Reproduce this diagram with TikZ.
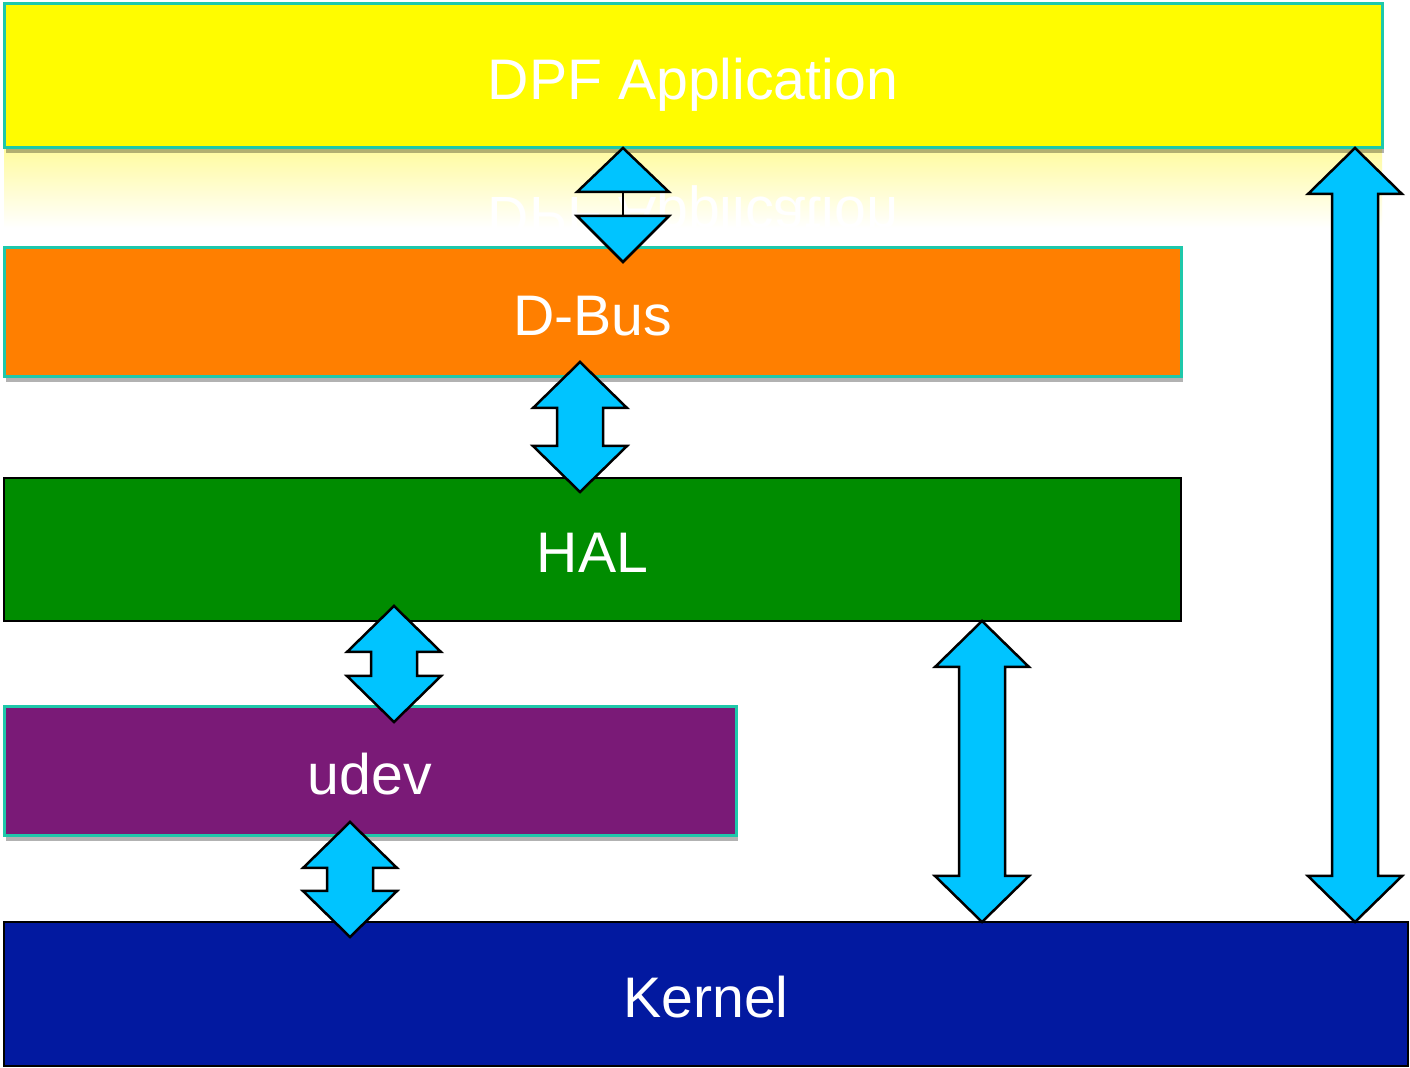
\documentclass[tikz,border=0pt]{standalone}
\usepackage{fontspec}
\setmainfont{Liberation Sans}
\usetikzlibrary{calc,shadows}
\definecolor{tealedge}{RGB}{30,200,170}
\definecolor{cyanarrow}{RGB}{0,196,255}
\definecolor{dpfyellow}{RGB}{255,252,0}
\definecolor{dbusorange}{RGB}{255,127,0}
\definecolor{halgreen}{RGB}{0,140,0}
\definecolor{udevpurple}{RGB}{122,26,119}
\definecolor{kernelblue}{RGB}{2,25,160}
\definecolor{refl}{RGB}{255,251,160}
\tikzset{
  layer/.style={inner sep=0pt, outer sep=0pt, text=white, font=\fontsize{28.6pt}{30pt}\selectfont,
    text height=23.4pt, text depth=0pt},
  tealbox/.style={layer, draw=tealedge, line width=1.5pt,
    drop shadow={shadow xshift=1.2pt, shadow yshift=-2.4pt, opacity=0.3, fill=black}},
  blackbox/.style={layer, draw=black, line width=1pt},
  arr/.style={fill=cyanarrow, draw=black, line width=1.25pt, line join=miter},
}
\newcommand\twoway[5]{%
  \coordinate (t) at ($(#1 |- #2.south)+(0,-#4)$);
  \coordinate (b) at ($(#1 |- #3.north)+(0,#5)$);
  \draw[arr] (t) -- ++(47,46) -- ++(-24,0) -- ($(b)+(23,-46)$) -- ++(24,0) -- (b)
     -- ++(-47,-46) -- ++(24,0) -- ($(t)+(-23,46)$) -- ++(-24,0) -- cycle;}
\begin{document}
\begin{tikzpicture}[x=0.5pt,y=-0.5pt]
\useasboundingbox[fill=white] (0,0) rectangle (1410,1068);

% reflection of the top layer
\begin{scope}
  \clip (4,149) rectangle (1382,228);
  \shade[top color=refl, bottom color=white] (4,149) rectangle (1382,228);
  \node[layer, text height=, text depth=, anchor=base, yscale=-1] (reflect) at (693,198) {DPF Application};
\end{scope}

% layers
\node[tealbox, fill=dpfyellow, minimum width=689pt, minimum height=72pt] (dpf) at (693,76) {DPF Application};
\node[tealbox, fill=dbusorange, minimum width=588.5pt, minimum height=64.5pt] (dbus) at (592.5,312.5) {D-Bus};
\node[blackbox, fill=halgreen, minimum width=588.5pt, minimum height=71.5pt] (hal) at (592.5,549.5) {HAL};
\node[tealbox, fill=udevpurple, minimum width=366pt, minimum height=64.5pt] (udev) at (370,771.5) {udev};
\node[blackbox, fill=kernelblue, minimum width=702pt, minimum height=72pt] (kernel) at (706,994) {Kernel};

% arrow x positions
\coordinate (ax0) at (623,0);
\coordinate (ax1) at (580,0);
\coordinate (ax2) at (394,0);
\coordinate (ax3) at (350,0);
\coordinate (ax4) at (982,0);
\coordinate (ax5) at (1355,0);

% DPF <-> D-Bus (two heads joined by a line)
\coordinate (t0) at (ax0 |- dpf.south);
\coordinate (b0) at ($(ax0 |- dbus.north)+(0,14)$);
\draw[line width=1.25pt] ($(t0)+(0,44)$) -- ($(b0)+(0,-46)$);
\draw[arr] (t0) -- ++(46,44) -- ++(-92,0) -- cycle;
\draw[arr] (b0) -- ++(46,-46) -- ++(-92,0) -- cycle;

\twoway{ax1}{dbus}{hal}{15}{14}
\twoway{ax2}{hal}{udev}{15}{15}
\twoway{ax3}{udev}{kernel}{14}{15}
\twoway{ax4}{hal}{kernel}{0}{0}
\twoway{ax5}{dpf}{kernel}{0}{0}
\end{tikzpicture}
\end{document}
